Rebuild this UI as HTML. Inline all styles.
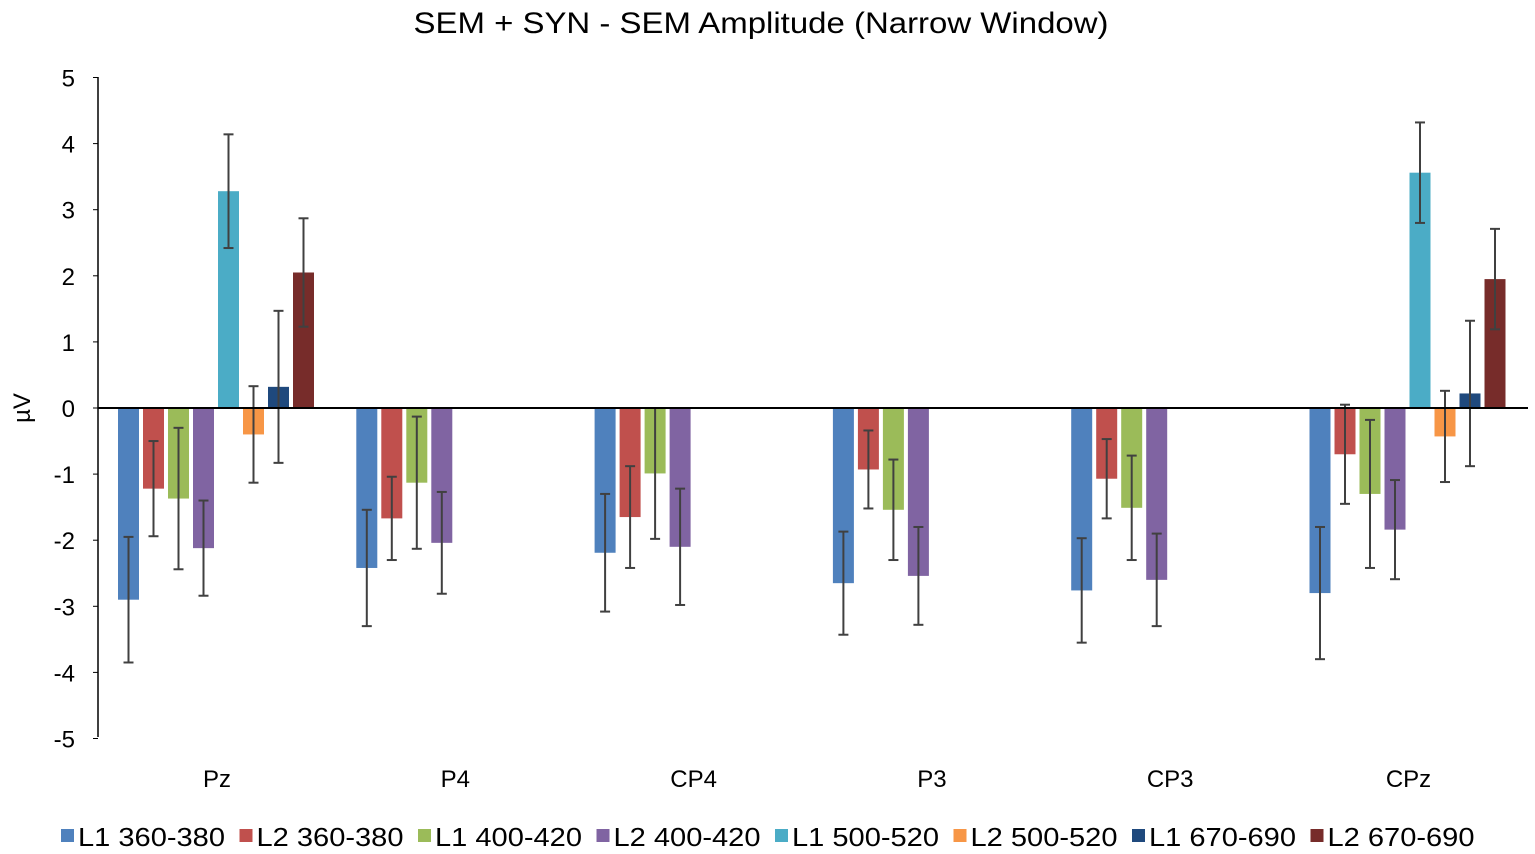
<!DOCTYPE html><html><head><style>body{margin:0;background:#fff}svg{display:block}text{font-family:"Liberation Sans",sans-serif;fill:#000}</style></head><body>
<svg width="1535" height="854" xmlns="http://www.w3.org/2000/svg">
<text x="761" y="33" font-size="30" text-anchor="middle" textLength="695" lengthAdjust="spacingAndGlyphs">SEM + SYN - SEM Amplitude (Narrow Window)</text>
<g id="ticks" font-size="24" text-anchor="end"></g>
<text transform="translate(30,408) rotate(-90)" font-size="24" text-anchor="middle">µV</text>
<g id="bars"></g>
<line x1="98" y1="77" x2="98" y2="737" stroke="#000" stroke-width="1.5"/>
<line x1="98" y1="408" x2="1528" y2="408" stroke="#000" stroke-width="2"/>
<g id="cats" font-size="24" text-anchor="middle"></g>
<g id="leg" font-size="26"></g>
</svg>
<script>
const ns="http://www.w3.org/2000/svg";
function el(p,t,a,txt){const e=document.createElementNS(ns,t);for(const k in a)e.setAttribute(k,a[k]);if(txt!=null)e.textContent=txt;document.getElementById(p).appendChild(e);}
const Y=v=>408-v*66.1;
for(let v=5;v>=-5;v--){el("ticks","text",{x:75,y:Y(v)+9},String(v));el("ticks","line",{x1:93,x2:98,y1:Y(v),y2:Y(v),stroke:"#000"});}
const cols=["#4f81bd","#c0504d","#9bbb59","#8064a2","#4bacc6","#f79646","#1f497d","#772c2a"];
const cats=["Pz","P4","CP4","P3","CP3","CPz"];
const d=[
[[-2.9,.95],[-1.22,.72],[-1.37,1.07],[-2.12,.72],[3.28,.86],[-0.4,.73],[0.32,1.15],[2.05,.82]],
[[-2.42,.88],[-1.67,.63],[-1.13,1.0],[-2.04,.77]],
[[-2.19,.89],[-1.65,.77],[-0.99,.99],[-2.1,.88]],
[[-2.65,.78],[-0.93,.59],[-1.54,.76],[-2.54,.74]],
[[-2.76,.79],[-1.07,.6],[-1.51,.79],[-2.6,.7]],
[[-2.8,1.0],[-0.7,.75],[-1.3,1.12],[-1.84,.75],[3.56,.76],[-0.43,.69],[0.22,1.1],[1.95,.76]]];
d.forEach((g,gi)=>{const x0=98+gi*238.3;
el("cats","text",{x:x0+119,y:787},cats[gi]);
g.forEach(([v,e],i)=>{const x=x0+20+i*25;const y1=Y(Math.max(v,0)),y2=Y(Math.min(v,0));
el("bars","rect",{x:x,y:y1,width:21,height:y2-y1,fill:cols[i]});
const cx=x+10.5;el("bars","line",{x1:cx,x2:cx,y1:Y(v+e),y2:Y(v-e),stroke:"#404040","stroke-width":2});
[v+e,v-e].forEach(w=>el("bars","line",{x1:cx-5,x2:cx+5,y1:Y(w),y2:Y(w),stroke:"#404040","stroke-width":2}));});});
const L=["L1 360-380","L2 360-380","L1 400-420","L2 400-420","L1 500-520","L2 500-520","L1 670-690","L2 670-690"];
L.forEach((t,i)=>{const x=61+i*178.5;el("leg","rect",{x:x,y:829,width:13,height:13,fill:cols[i]});el("leg","text",{x:x+17,y:846,textLength:147,lengthAdjust:"spacingAndGlyphs"},t);});
</script></body></html>
